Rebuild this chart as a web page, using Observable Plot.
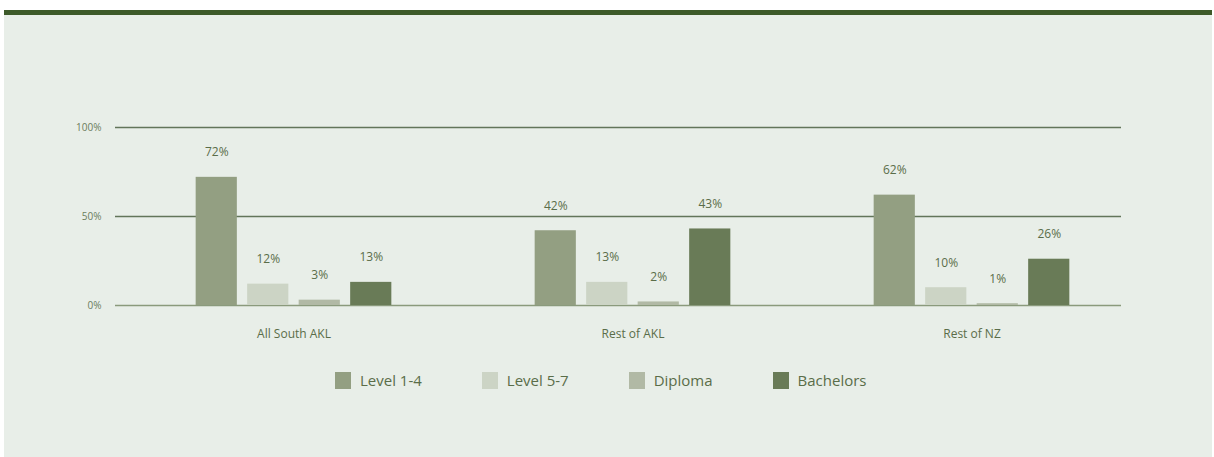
<!DOCTYPE html>
<html><head><meta charset="utf-8">
<script src="https://cdn.jsdelivr.net/npm/d3@7"></script>
<script src="https://cdn.jsdelivr.net/npm/@observablehq/plot@0.6"></script>
<style>
body{margin:0;background:#fff;width:1214px;height:457px;overflow:hidden;font-family:"Open Sans",sans-serif;position:relative}
#panel{position:absolute;left:4px;top:10px;width:1208px;height:447px;background:#e8eee8;border-top:5px solid #3d5a29;box-sizing:border-box}
#chart{position:absolute;left:0;top:0}
#legend{position:absolute;left:331px;top:355px;display:flex;align-items:center;font-size:15px;color:#5a6d49}
#legend .item{display:flex;align-items:center;margin-right:60px}
#legend .sw{width:16px;height:17px;margin-right:9px}
</style></head>
<body>
<div id="panel"><div id="chart"></div><div id="legend"></div></div>
<script>
const groups = ["All South AKL", "Rest of AKL", "Rest of NZ"];
const series = ["Level 1-4", "Level 5-7", "Diploma", "Bachelors"];
const level14 = [72, 42, 62];
const level57 = [12, 13, 10];
const diploma = [3, 2, 1];
const bachelors = [13, 43, 26];
const colors = ["#939f82", "#ccd4c5", "#b1b9a5", "#697b57"];
const yTicks = [0, 50, 100];

const valuesBySeries = [level14, level57, diploma, bachelors];
const rows = [];
series.forEach((s, i) => groups.forEach((g, j) => rows.push({series: s, si: i, group: g, value: valuesBySeries[i][j]})));

const W = 1208, H = 340;
const xRange = [119, 1137];
const band = (xRange[1] - xRange[0]) / groups.length;
const step = 51.5, barW = 41.5;
const inset = (band - barW) / 2;
const textColor = "#5a6d49";

const marks = [
  Plot.ruleY(yTicks.filter(d => d !== 0), {stroke: "#62755a", strokeWidth: 1.4}),
  Plot.ruleY(yTicks.filter(d => d === 0), {stroke: "#8a9a7c", strokeWidth: 1.6}),
];
series.forEach((s, i) => {
  const sub = rows.filter(r => r.si === i);
  const dx = (i - 1.5) * step;
  marks.push(Plot.barY(sub, {x: "group", y: "value", fill: "series", dx, insetLeft: inset, insetRight: inset}));
  marks.push(Plot.text(sub, {x: "group", y: "value", text: d => d.value + "%", dx, dy: -25, fill: textColor, fontSize: 12}));
});
marks.push(Plot.axisX({tickSize: 0, tickPadding: 24, fontSize: 12, color: textColor, label: null}));
marks.push(Plot.axisY({ticks: yTicks, tickSize: 0, tickPadding: 14, fontSize: 10, color: "#6b7d5c", tickFormat: d => d + "%", label: null}));

const chart = Plot.plot({
  width: W, height: H,
  marginLeft: 111, marginRight: 91, marginTop: 112, marginBottom: 50,
  style: {background: "transparent", fontFamily: "Open Sans, sans-serif", overflow: "visible"},
  x: {type: "band", domain: groups, range: xRange, padding: 0},
  y: {domain: [0, 100], range: [290, 112]},
  color: {domain: series, range: colors},
  marks
});
document.getElementById("chart").append(chart);

const legend = d3.select("#legend");
series.forEach((s, i) => {
  const it = legend.append("div").attr("class", "item");
  it.append("div").attr("class", "sw").style("background", colors[i]);
  it.append("span").text(s);
});
</script>
</body></html>
